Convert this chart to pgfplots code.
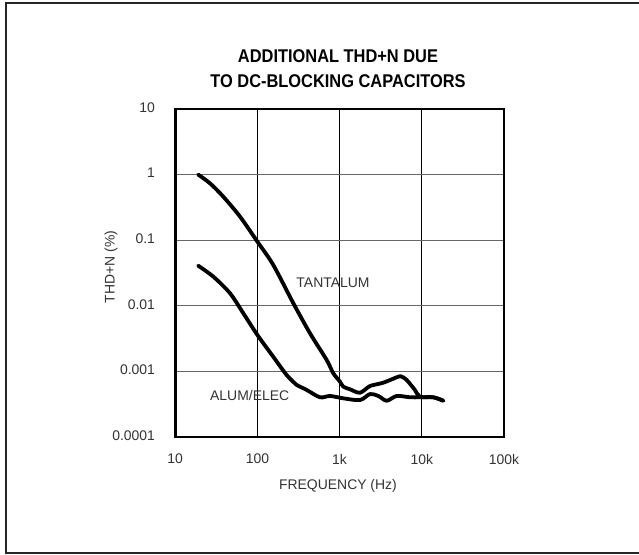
\documentclass[border=0pt]{standalone}
\usepackage{pgfplots}
\pgfplotsset{compat=1.18}
\usepackage{fontspec}
\setmainfont{Liberation Sans}
\newfontfamily\titlefont[FakeStretch=0.89]{Liberation Sans}
\definecolor{txt}{gray}{0.2}
\begin{document}
\begin{tikzpicture}[x=1bp,y=1bp]
\useasboundingbox (0,0) rectangle (639,555);
\draw[line width=2bp, black!85] (6,1.5) rectangle (645,552);
\node[font=\titlefont\bfseries\fontsize{18.5}{25.4}\selectfont, align=center, inner sep=0pt] at (338,486) {ADDITIONAL THD+N DUE\\TO DC-BLOCKING CAPACITORS};
\begin{axis}[
  at={(175.2bp,118bp)}, anchor=south west,
  scale only axis, width=328.8bp, height=328bp,
  xmode=log, ymode=log,
  xmin=10, xmax=100000, ymin=0.0001, ymax=10,
  xtick={10,100,1000,10000,100000},
  xticklabels={10,100,1k,10k,100k},
  ytick={0.0001,0.001,0.01,0.1,1,10},
  yticklabels={0.0001,0.001,0.01,0.1,1,10},
  xminorticks=false, yminorticks=false,
  major tick length=0pt,
  /pgf/number format/assume math mode=true,
  tick label style={font=\fontsize{14}{16}\selectfont, text=txt},
  xticklabel style={inner sep=0pt, yshift=-17bp},
  yticklabel style={inner sep=0pt, xshift=-20bp, yshift=1.5bp},
  grid=major,
  x grid style={black, line width=0.9bp},
  y grid style={black!60, line width=0.9bp},
  axis line style={line width=2.6bp},
  xlabel={FREQUENCY (Hz)},
  ylabel={THD+N (\%)},
  every axis x label/.style={at={(axis description cs:0.495,-0.1485)}, anchor=center, font=\fontsize{14}{16}\selectfont, text=txt},
  every axis y label/.style={at={(axis description cs:-0.195,0.518)}, anchor=center, rotate=90, font=\fontsize{14}{16}\selectfont, text=txt},
  clip=false,
]
% TANTALUM
\addplot[line width=3.8bp, line cap=round, line join=round, smooth, tension=0.5] coordinates {
 (19,1.0) (26.5,0.736) (38.5,0.46) (61.4,0.229) (100,0.095) (156,0.0419)
 (274,0.0109) (437,0.0038) (697,0.00149) (838,0.000935) (1012,0.000697)
 (1109,0.000585) (1340,0.000533) (1770,0.000473) (2344,0.000598) (3404,0.000673)
 (5176,0.00083) (5690,0.00083) (6546,0.00074) (8260,0.00052) (9506,0.000411)
 (13800,0.000403) (18280,0.000357)
};
% ALUM/ELEC
\addplot[line width=3.8bp, line cap=round, line join=round, smooth, tension=0.5] coordinates {
 (19,0.0409) (29.1,0.0278) (46.5,0.0155) (67.5,0.00767) (100,0.00359)
 (156,0.00167) (227,0.00088) (301,0.00062) (330,0.000585) (398,0.000521)
 (578,0.000403) (764,0.000422) (1109,0.000389) (1770,0.000366) (2344,0.000452)
 (2958,0.000422) (3741,0.000357) (4955,0.000422) (7194,0.000403) (9506,0.000403)
 (13800,0.000403) (18280,0.000357)
};
\node[font=\fontsize{14}{16}\selectfont, text=txt] at (axis cs:832,0.0223) {TANTALUM};
\node[font=\fontsize{14}{16}\selectfont, text=txt] at (axis cs:80.5,0.000422) {ALUM/ELEC};
\end{axis}
\end{tikzpicture}
\end{document}
